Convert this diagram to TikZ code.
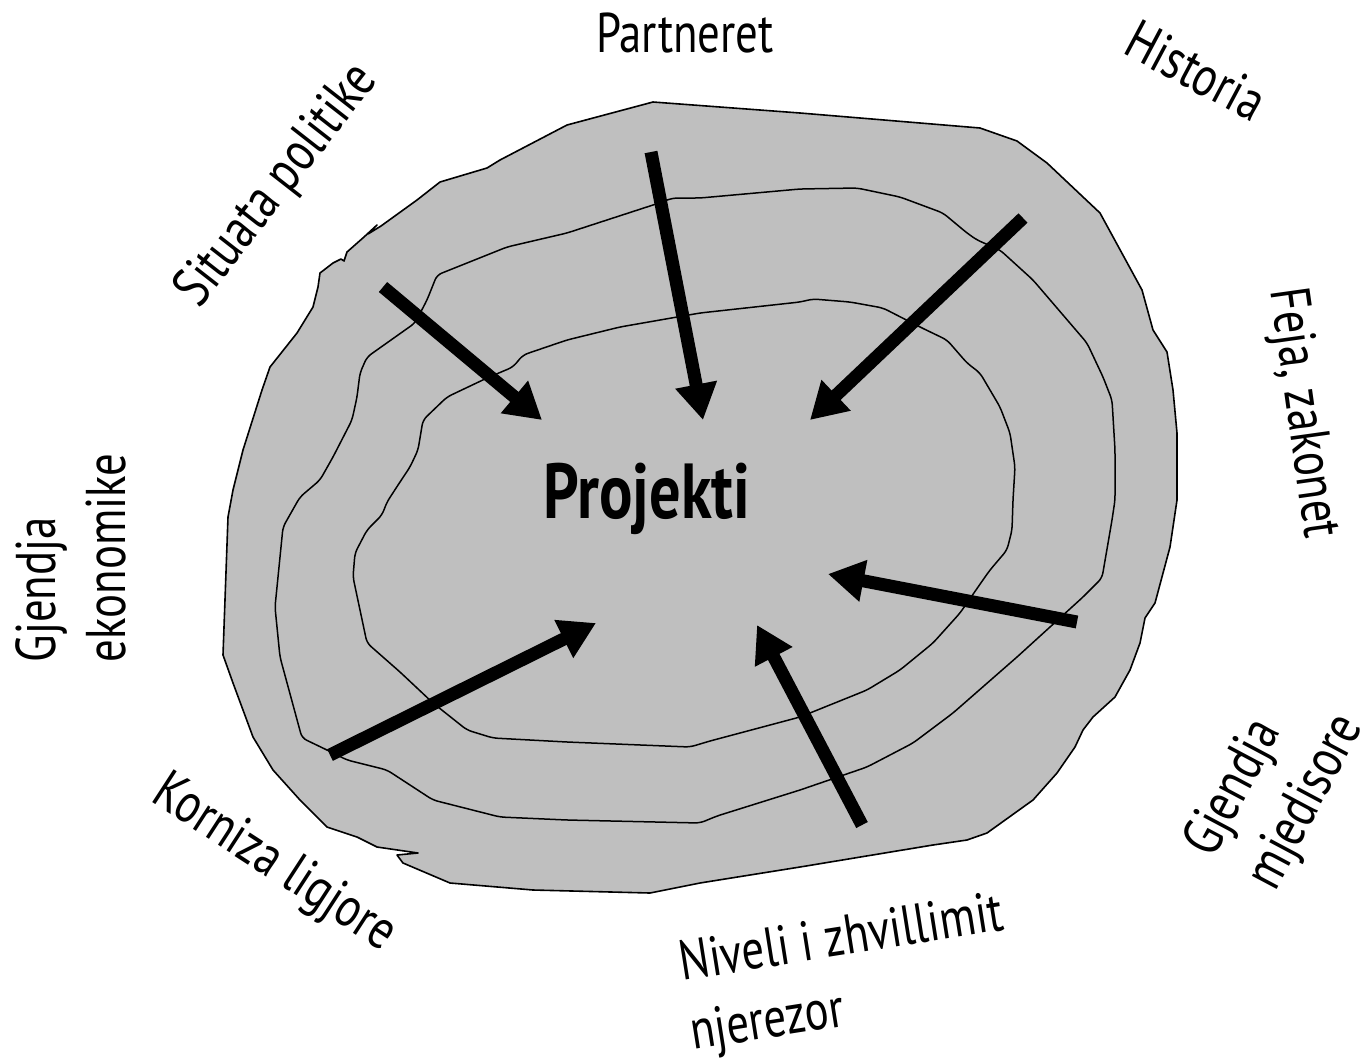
\documentclass[tikz,border=0pt]{standalone}
\usepackage{fontspec}
\setmainfont{PT Sans}[FakeStretch=0.8]
\usetikzlibrary{arrows.meta}
\definecolor{blobgray}{RGB}{191,191,191}
\begin{document}
\begin{tikzpicture}[x=1pt,y=-1pt,
  outline/.style={draw=black,line width=1.6pt,line join=round},
  ring/.style={draw=black,line width=1.5pt,rounded corners=5pt},
  arr/.style={line width=13pt,-{Triangle[length=36pt,width=40pt]}},
  lab/.style={font=\fontsize{56}{70}\selectfont,inner sep=0pt,anchor=base},
  lab2/.style={font=\fontsize{56}{70}\selectfont,inner sep=0pt,align=left,anchor=center},
  title/.style={font=\bfseries\fontsize{78}{86}\selectfont,inner sep=0pt,anchor=base}]
\useasboundingbox (0,0) rectangle (1365,1061);
% outer blob
\filldraw[outline,fill=blobgray]
 (653,102) -- (800,113) -- (980,128) -- (1017,141) -- (1047,163) -- (1100,213)
 -- (1142,290) -- (1153,330) -- (1167,352) -- (1173,390) -- (1177,433) -- (1177,500)
 -- (1170,547) -- (1155,603) -- (1145,618) -- (1140,643) -- (1130,670) -- (1115,697)
 -- (1093,717) -- (1083,730) -- (1075,747) -- (1057,773) -- (1033,800) -- (987,833)
 -- (967,840) -- (933,845) -- (800,867) -- (700,883) -- (650,893) -- (533,890)
 -- (450,883) -- (403,863) -- (397,855) -- (418,853) -- (377,847) -- (357,837)
 -- (327,827) -- (300,800) -- (273,770) -- (253,737) -- (233,683) -- (223,655)
 -- (228,517) -- (233,490) -- (243,450) -- (262,390) -- (270,367) -- (297,333)
 -- (313,307) -- (318,287) -- (320,273) -- (333,263) -- (341,259) -- (344,261)
 -- (347,252) -- (364,237) -- (377,225) -- (368,234) -- (381,226) -- (417,200)
 -- (440,182) -- (487,168) -- (500,160) -- (567,125) -- cycle;
% middle ring
\draw[ring]
 (437,275) -- (507,247) -- (567,233) -- (653,205) -- (673,198) -- (700,198)
 -- (800,189) -- (857,188) -- (900,197) -- (943,213) -- (967,233) -- (977,240)
 -- (1000,250) -- (1033,280) -- (1087,343) -- (1103,377) -- (1112,400) -- (1115,450)
 -- (1115,500) -- (1112,520) -- (1102,578) -- (1083,597) -- (1017,657) -- (953,713)
 -- (913,743) -- (867,767) -- (800,790) -- (717,816) -- (700,823) -- (567,820)
 -- (500,817) -- (433,800) -- (387,770) -- (347,760) -- (327,750) -- (302,738)
 -- (280,657) -- (275,607) -- (283,527) -- (300,497) -- (320,480) -- (333,457)
 -- (352,420) -- (357,397) -- (360,373) -- (367,357) -- (415,323) -- (427,300) -- cycle;
% inner ring
\draw[ring]
 (423,420) -- (447,397) -- (487,378) -- (513,367) -- (523,355) -- (567,340)
 -- (620,327) -- (700,313) -- (800,302) -- (813,299) -- (850,302) -- (883,308)
 -- (920,327) -- (947,340) -- (967,363) -- (980,373) -- (1000,407) -- (1010,433)
 -- (1015,467) -- (1013,500) -- (1012,530) -- (1007,550) -- (990,570) -- (985,577)
 -- (960,613) -- (933,643) -- (900,670) -- (867,690) -- (800,717) -- (710,741)
 -- (690,747) -- (567,742) -- (493,738) -- (467,730) -- (433,703) -- (400,672)
 -- (367,643) -- (353,577) -- (355,553) -- (367,530) -- (382,515) -- (387,502)
 -- (400,482) -- (410,467) -- (418,450) -- cycle;
% centre label
\node[title] (proj) at (647,518) {Projekti};
% arrow end points
\coordinate (t1) at (383,287);  \coordinate (h1) at (542,420);
\coordinate (t2) at (651,152);  \coordinate (h2) at (703,420);
\coordinate (t3) at (1023,218); \coordinate (h3) at (810,420);
\coordinate (t4) at (1077,622); \coordinate (h4) at (828,574);
\coordinate (t5) at (862,825);  \coordinate (h5) at (757,625);
\coordinate (t6) at (330,755);  \coordinate (h6) at (596,623);
\draw[arr] (t1) -- (h1);
\draw[arr] (t2) -- (h2);
\draw[arr] (t3) -- (h3);
\draw[arr] (t4) -- (h4);
\draw[arr] (t5) -- (h5);
\draw[arr] (t6) -- (h6);
% surrounding labels
\node[lab] (partneret) at (685,52) {Partneret};
\node[lab,rotate=-28] (historia) at (1187,88) {Historia};
\node[lab,rotate=52] (situata) at (289,195) {Situata politike};
\node[lab,rotate=-82] (feja) at (1288,415) {Feja, zakonet};
\node[lab,rotate=-33] (korniza) at (266,876) {Korniza ligjore};
\node[lab2,rotate=90] (ekonomike) at (71,558) {Gjendja\\ekonomike};
\node[lab2,rotate=62] (mjedisore) at (1276,786) {Gjendja\\mjedisore};
\node[lab2,rotate=9] (niveli) at (847,976) {Niveli i zhvillimit\\njerezor};
\end{tikzpicture}
\end{document}
